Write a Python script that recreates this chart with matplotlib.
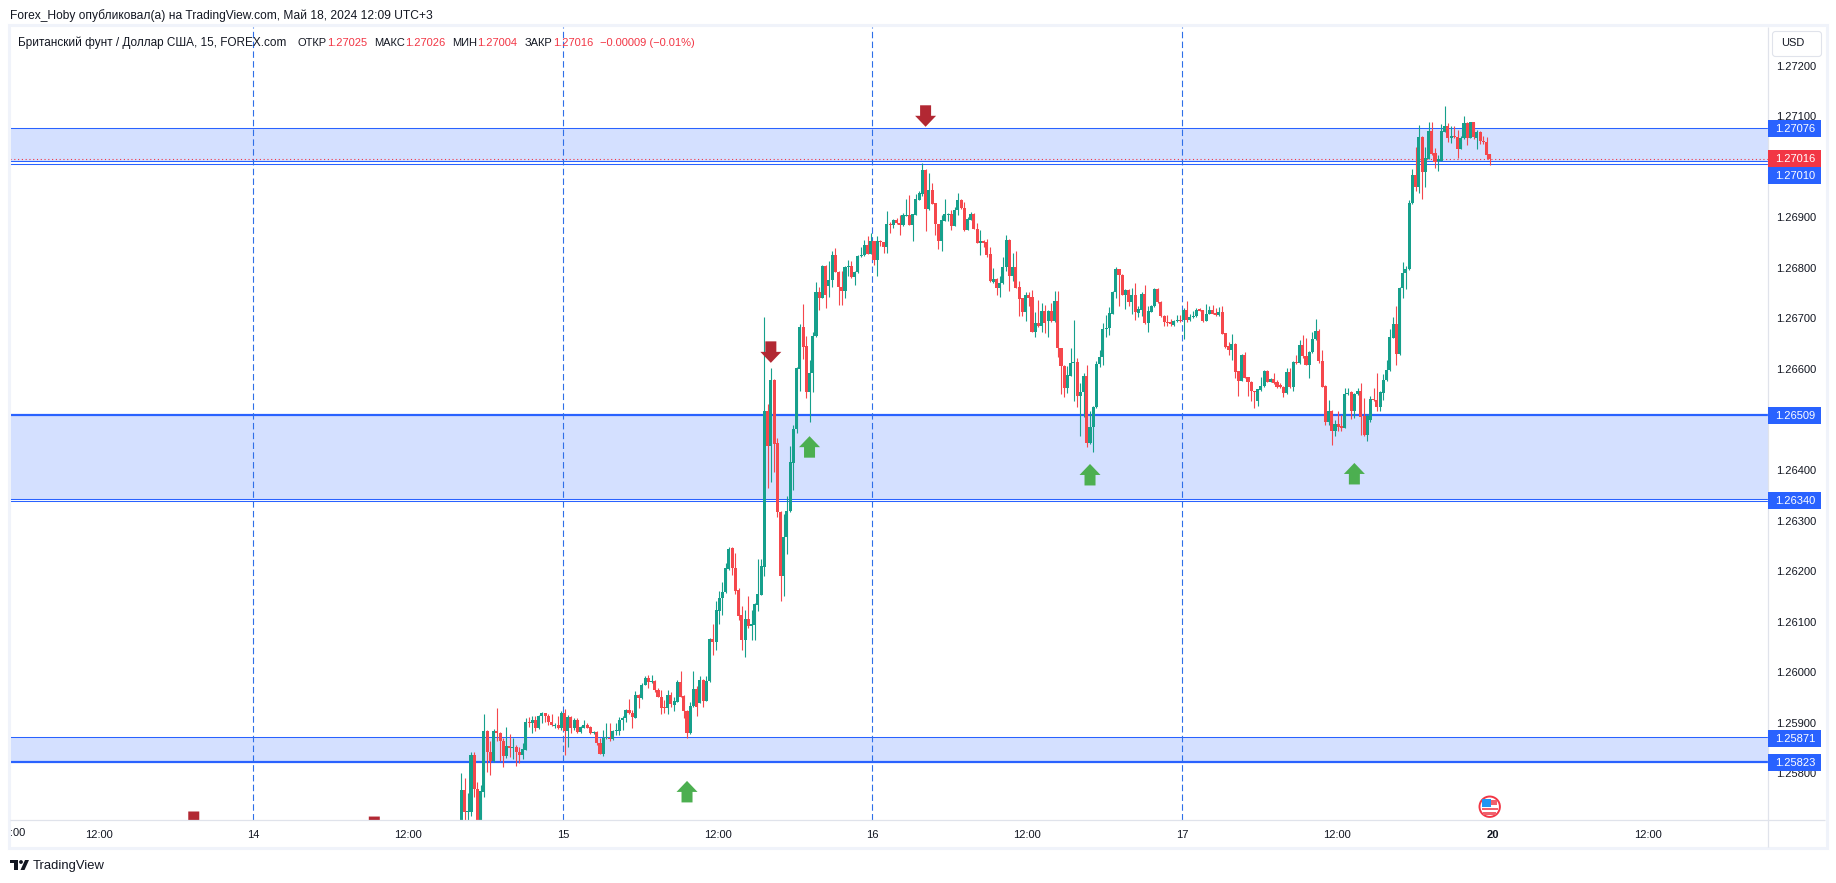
import numpy as np
import matplotlib
matplotlib.use("Agg")
import matplotlib.pyplot as plt
from matplotlib.patches import Polygon, Rectangle, Circle, FancyBboxPatch

plt.rcParams['font.family'] = ['Liberation Sans', 'DejaVu Sans']

# OHLC of the 15-minute candles, in units of 0.00001 above 1.0
opens = [
25682,25768,25723,25723,25837,25769,25689,25764,25884,25842,
25824,25884,25880,25863,25834,25855,25851,25853,25842,25836,
25847,25902,25899,25906,25889,25914,25919,25913,25901,25894,
25896,25889,25919,25883,25911,25889,25906,25881,25890,25896,
25892,25880,25882,25860,25839,25869,25870,25867,25884,25884,
25905,25909,25926,25919,25910,25954,25950,25974,25989,25980,
25983,25964,25952,25932,25930,25955,25936,25942,25981,25953,
25924,25879,25933,25967,25940,25985,25944,25982,26066,26060,
26122,26146,26158,26205,26245,26206,26162,26113,26063,26106,
26091,26094,26133,26153,26209,26517,26448,26579,26453,26317,
26191,26267,26318,26414,26482,26600,26682,26645,26555,26591,
26666,26753,26741,26804,26765,26775,26826,26792,26763,26755,
26802,26803,26781,26791,26823,26825,26846,26828,26853,26816,
26854,26851,26842,26887,26884,26895,26888,26884,26903,26904,
26885,26905,26935,26946,26994,26917,26954,26928,26886,26854,
26893,26905,26907,26883,26914,26935,26918,26875,26895,26907,
26877,26850,26853,26851,26827,26772,26778,26761,26769,26801,
26855,26784,26802,26762,26740,26712,26747,26742,26674,26691,
26684,26714,26694,26714,26694,26735,26641,26606,26562,26587,
26611,26614,26546,26554,26587,26453,26485,26524,26609,26623,
26679,26681,26709,26752,26797,26786,26747,26757,26732,26747,
26711,26717,26749,26690,26713,26724,26758,26733,26705,26693,
26693,26687,26695,26697,26696,26717,26696,26703,26704,26718,
26716,26695,26708,26717,26711,26706,26713,26671,26646,26637,
26649,26595,26577,26628,26584,26575,26556,26536,26559,26566,
26596,26575,26581,26574,26569,26565,26552,26594,26564,26614,
26611,26647,26626,26607,26633,26659,26676,26616,26567,26496,
26517,26477,26492,26488,26484,26551,26554,26517,26550,26556,
26506,26469,26498,26540,26539,26524,26552,26578,26597,26662,
26689,26629,26760,26790,26797,26928,26984,26959,27059,26989,
27016,27070,27027,27011,27012,27069,27081,27056,27060,27058,
27036,27056,27087,27057,27088,27056,27069,27050,27049,27025]
highs = [
25801,25791,25761,25842,25843,25782,25776,25918,25886,25863,
25888,25929,25881,25870,25892,25878,25870,25857,25852,25860,
25909,25911,25914,25914,25916,25921,25920,25918,25918,25899,
25914,25923,25927,25915,25913,25909,25909,25894,25905,25899,
25893,25883,25883,25870,25886,25899,25899,25886,25899,25911,
25913,25927,25947,25926,25962,25957,25979,25992,25995,25994,
25984,25968,25964,25946,25965,25960,25952,25985,26003,25954,
25925,25942,26002,25972,25992,25987,25992,26068,26096,26140,
26160,26179,26216,26248,26247,26236,26167,26131,26124,26151,
26124,26137,26224,26224,26702,26530,26602,26580,26463,26318,
26314,26349,26447,26489,26603,26689,26729,26665,26617,26673,
26772,26763,26806,26806,26813,26834,26839,26793,26793,26803,
26816,26813,26793,26825,26842,26855,26862,26869,26854,26862,
26855,26852,26913,26890,26896,26898,26905,26909,26937,26944,
26907,26946,26952,27007,26996,26987,26967,26929,26887,26905,
26937,26908,26915,26921,26948,26936,26931,26900,26911,26908,
26888,26875,26855,26857,26842,26800,26780,26783,26821,26865,
26858,26829,26834,26773,26741,26752,26752,26757,26712,26736,
26730,26727,26717,26730,26755,26755,26642,26607,26605,26641,
26697,26622,26572,26592,26607,26516,26526,26615,26638,26691,
26707,26722,26755,26802,26798,26787,26758,26758,26760,26770,
26725,26753,26767,26725,26726,26761,26760,26735,26707,26707,
26699,26697,26707,26707,26720,26735,26709,26714,26720,26720,
26717,26729,26725,26727,26720,26722,26725,26672,26654,26669,
26651,26596,26629,26633,26585,26576,26557,26561,26585,26597,
26597,26582,26591,26579,26573,26567,26602,26602,26615,26628,
26658,26667,26661,26635,26673,26699,26678,26638,26568,26539,
26518,26498,26517,26509,26562,26562,26556,26553,26562,26572,
26542,26511,26546,26562,26592,26556,26589,26618,26678,26702,
26725,26762,26811,26804,26935,26996,27040,27083,27060,27040,
27089,27088,27037,27023,27085,27120,27086,27081,27080,27073,
27060,27101,27088,27089,27089,27072,27070,27060,27058,27026]
lows = [
25656,25682,25682,25716,25754,25669,25669,25754,25802,25797,
25822,25863,25824,25812,25830,25832,25828,25814,25820,25828,
25846,25891,25880,25883,25888,25899,25901,25896,25893,25890,
25888,25886,25837,25853,25880,25886,25880,25880,25889,25889,
25878,25878,25857,25838,25835,25868,25863,25865,25876,25876,
25886,25901,25918,25890,25910,25929,25948,25974,25968,25979,
25960,25951,25918,25919,25918,25932,25924,25941,25951,25910,
25869,25878,25932,25913,25939,25932,25943,25981,26035,26044,
26096,26114,26157,26203,26193,26155,26104,26044,26031,26088,
26064,26064,26122,26152,26190,26364,26377,26397,26308,26140,
26151,26234,26317,26360,26474,26556,26620,26543,26495,26555,
26664,26717,26740,26720,26743,26763,26791,26727,26727,26740,
26783,26780,26766,26790,26821,26824,26827,26827,26805,26784,
26844,26830,26830,26869,26878,26887,26864,26883,26902,26884,
26853,26904,26934,26942,26872,26915,26926,26865,26838,26834,
26892,26893,26875,26882,26905,26917,26872,26874,26894,26876,
26849,26826,26842,26822,26772,26770,26747,26743,26768,26793,
26755,26773,26760,26704,26704,26694,26724,26673,26664,26683,
26674,26671,26664,26693,26693,26623,26551,26544,26552,26586,
26536,26524,26467,26505,26445,26452,26435,26523,26603,26607,
26664,26668,26708,26741,26725,26746,26719,26725,26709,26696,
26702,26704,26689,26674,26713,26723,26730,26703,26684,26685,
26685,26685,26693,26693,26659,26692,26695,26700,26703,26714,
26693,26694,26708,26708,26705,26705,26669,26641,26628,26617,
26582,26546,26576,26582,26546,26536,26523,26526,26557,26565,
26574,26574,26571,26562,26562,26544,26551,26563,26556,26610,
26610,26622,26607,26583,26631,26658,26612,26564,26490,26490,
26450,26467,26477,26477,26483,26549,26501,26503,26549,26470,
26468,26457,26496,26536,26516,26516,26539,26577,26596,26661,
26607,26628,26741,26759,26796,26926,26951,26949,26937,26959,
27015,27024,26998,26991,27011,27068,27048,27047,27057,27017,
27035,27055,27043,27056,27055,27035,27045,27045,27016,27004]
closes = [
25768,25723,25724,25837,25769,25689,25766,25884,25842,25824,
25884,25880,25863,25834,25855,25851,25853,25842,25836,25849,
25902,25900,25906,25889,25914,25919,25913,25901,25895,25896,
25889,25919,25883,25911,25889,25906,25881,25892,25896,25890,
25880,25882,25860,25839,25869,25870,25867,25884,25885,25906,
25909,25926,25919,25911,25954,25950,25975,25989,25980,25983,
25964,25952,25930,25930,25955,25937,25944,25981,25952,25923,
25879,25934,25967,25932,25984,25944,25982,26066,26060,26124,
26147,26159,26206,26244,26206,26161,26112,26063,26106,26091,
26095,26135,26155,26211,26517,26448,26579,26451,26316,26191,
26267,26318,26415,26482,26602,26682,26644,26555,26591,26666,
26753,26741,26804,26747,26776,26826,26792,26763,26755,26802,
26803,26781,26792,26824,26825,26846,26828,26853,26816,26853,
26852,26842,26887,26885,26895,26888,26884,26904,26904,26885,
26906,26937,26948,26994,26917,26954,26927,26886,26854,26894,
26906,26907,26883,26915,26935,26918,26875,26897,26907,26877,
26850,26853,26850,26826,26773,26778,26761,26770,26801,26855,
26784,26802,26761,26739,26712,26747,26741,26674,26691,26684,
26714,26691,26714,26694,26734,26641,26605,26562,26588,26612,
26614,26546,26554,26587,26453,26485,26525,26610,26623,26679,
26681,26710,26753,26797,26786,26747,26757,26732,26747,26712,
26718,26749,26690,26714,26725,26759,26732,26704,26692,26691,
26688,26695,26697,26695,26717,26696,26703,26704,26717,26715,
26695,26709,26717,26709,26706,26713,26670,26644,26637,26649,
26593,26577,26628,26583,26574,26556,26554,26560,26566,26596,
26575,26581,26572,26565,26564,26552,26594,26564,26614,26611,
26648,26625,26608,26634,26660,26676,26615,26565,26496,26517,
26477,26492,26486,26484,26551,26552,26517,26551,26556,26505,
26469,26506,26540,26538,26524,26554,26579,26598,26664,26689,
26629,26761,26790,26797,26928,26984,26959,27059,26989,27017,
27070,27025,27010,27015,27070,27081,27056,27060,27058,27036,
27056,27087,27056,27088,27058,27069,27050,27048,27023,27016]

# Price scale and time axis
price_ticks = [1.272, 1.271, 1.269, 1.268, 1.267, 1.266, 1.264, 1.263, 1.262,
               1.261, 1.260, 1.259, 1.258]
day_ticks = [-64.5, 31.5, 127.5, 223.5, 320.0]
day_labels = ['14', '15', '16', '17', '20']
noon_ticks = [-112.5, -16.5, 79.5, 175.5, 271.5, 368.0]
separator_bars = [-64.5, 31.5, 127.5, 223.5]

# Drawn price zones (upper, lower) and their border lines
zones = [(1.27076, 1.27011), (1.26509, 1.26343), (1.25871, 1.25823)]
thin_levels = [1.27076, 1.27011, 1.27005, 1.26343, 1.26338, 1.25871]
thick_levels = [1.26509, 1.25823]
last_price = 1.27016
level_tags = [('1.27076', 1.27076), ('1.26509', 1.26509), ('1.26340', 1.26340),
              ('1.25871', 1.25871), ('1.25823', 1.25823)]

# Arrows drawn on the chart: bar, tip price
up_arrows = [(70, 1.25785), (108, 1.26467), (195, 1.26412), (277, 1.26414)]
down_arrows = [(96, 1.26612), (144, 1.27079), (-83, 1.25682), (-27, 1.25672)]

UP, DOWN = '#16a08c', '#f5474c'
BLUE = '#2962ff'
W, H = 1836, 883
L, R, T, B = 10, 1768, 27, 820
FS_NUM = 8.0      # digit-heavy labels
FS_TXT = 8.5      # running text

o, h, l, c = [1 + np.array(a) / 1e5 for a in (opens, highs, lows, closes)]
bars = np.arange(len(c))
colors = np.where(c >= o, UP, DOWN)

fig = plt.figure(figsize=(W / 100, H / 100), dpi=100, facecolor='white')
ax = fig.add_axes([L / W, 1 - B / H, (R - L) / W, (B - T) / H])
ax.set_xlim(-140.0, 405.3)
ax.set_ylim(1.257077, 1.272764)
px_per_bar = (R - L) / 545.3
px_per_price = (B - T) / (1.272764 - 1.257077)
for s in ax.spines.values():
    s.set_visible(False)

for up, lo in zones:
    ax.axhspan(lo, up, color='#d4e0ff', lw=0, zorder=1)
for v in thin_levels:
    ax.axhline(v, color=BLUE, lw=0.75, zorder=2)
for v in thick_levels:
    ax.axhline(v, color=BLUE, lw=1.6, zorder=2)
for b in separator_bars:
    ax.axvline(b, color='#2f6fe8', lw=0.8, ls=(0, (5.8, 3.0)), zorder=2)
ax.axhline(last_price, color='#f23645', lw=0.8, ls=(0, (1, 2.4)), zorder=2.5)

ax.vlines(bars, l, h, colors=colors, lw=0.8, zorder=3)
ax.bar(bars, np.maximum(np.abs(c - o), 0.00002), bottom=np.minimum(o, c), width=0.95,
       color=colors, lw=0, zorder=4)


def arrow(bar, tip, sign, color):
    hw, tw = 10.5 / px_per_bar, 5.5 / px_per_bar
    hh, th = sign * 11 / px_per_price, sign * 21.5 / px_per_price
    pts = [(bar, tip), (bar + hw, tip - hh), (bar + tw, tip - hh), (bar + tw, tip - th),
           (bar - tw, tip - th), (bar - tw, tip - hh), (bar - hw, tip - hh)]
    ax.add_patch(Polygon(pts, closed=True, color=color, lw=0, zorder=5))


for b, p in up_arrows:
    arrow(b, p, 1, '#4caf50')
for b, p in down_arrows:
    arrow(b, p, -1, '#b22833')

ax.yaxis.tick_right()
ax.set_yticks(price_ticks)
ax.set_yticklabels([f'{p:.5f}' for p in price_ticks], fontsize=FS_NUM, color='#131722')
ax.tick_params(axis='y', length=0, pad=6)
for lab in ax.get_yticklabels():
    lab.set_y(lab.get_position()[1])
ax.set_xticks(day_ticks + noon_ticks)
ax.set_xticklabels(day_labels + ['12:00'] * len(noon_ticks), fontsize=FS_NUM, color='#131722')
ax.tick_params(axis='x', length=0, pad=7)
for lab in ax.get_xticklabels()[4:5]:
    lab.set_fontweight('bold')

# Chrome, tags and captions in pixel coordinates
ov = fig.add_axes([0, 0, 1, 1], facecolor='none')
ov.set_xlim(0, W)
ov.set_ylim(H, 0)
ov.axis('off')


def line(x0, y0, x1, y1, color='#e0e3eb', lw=0.9):
    ov.plot([x0, x1], [y0, y1], color=color, lw=lw, solid_capstyle='butt')


frame = '#f0f3fa'
ov.add_patch(Rectangle((8.5, 25), 1818, 823, fill=False, ec=frame, lw=2.2))
line(R, 27, R, 847)
line(10, B, 1825, B)


def tag(text, yc, color=BLUE):
    ov.add_patch(Rectangle((R, yc - 8.5), 53, 17, fc=color, ec='none', zorder=6))
    ov.text(R + 27.5, yc + 0.6, text, color='white', fontsize=FS_NUM, ha='center', va='center', zorder=7)


tag_y = {'1.27076': 128.7, '1.26509': 415.6, '1.26340': 500.0, '1.25871': 738.3, '1.25823': 762.5}
for text, _ in level_tags:
    tag(text, tag_y[text])
tag('1.27016', 158.4, '#f23645')
tag('1.27010', 175.6)

ov.text(9.5, 16, 'Forex_Hoby опубликовал(а) на TradingView.com, Май 18, 2024 12:09 UTC+3',
        fontsize=8.65, color='#131722', va='center')
k, r = '#131722', '#f23645'
legend_runs = [(18, 'Британский фунт / Доллар США, 15, FOREX.com', k, FS_TXT), (297, 'ОТКР', k, FS_NUM),
               (327, '1.27025', r, FS_NUM), (374, 'МАКС', k, FS_NUM), (405, '1.27026', r, FS_NUM),
               (452, 'МИН', k, FS_NUM), (477, '1.27004', r, FS_NUM), (525, 'ЗАКР', k, FS_NUM),
               (553.5, '1.27016', r, FS_NUM), (600, '−0.00009 (−0.01%)', r, FS_NUM)]
for x, s, col, fs in legend_runs:
    ov.text(x, 43, s, fontsize=fs, color=col, va='center')
ov.text(10, 833, ':00', fontsize=FS_NUM, color='#131722', va='center')

ov.add_patch(FancyBboxPatch((1774, 33), 46, 22, boxstyle='round,pad=1.5,rounding_size=3',
                            fc='white', ec='#e0e3eb', lw=0.8))
ov.text(1793, 43.5, 'USD', fontsize=7.9, color='#131722', ha='center', va='center')

# US flag event icon
ov.add_patch(Circle((1489.7, 806.7), 10.2, fc='white', ec='#f23645', lw=1.4, zorder=6))
ov.add_patch(Rectangle((1482, 800), 15, 5, fc='#f0616c', ec='none', zorder=7))
ov.add_patch(Rectangle((1482, 808), 16, 2.2, fc='#f0616c', ec='none', zorder=7))
ov.add_patch(Rectangle((1483, 812), 13, 2.6, fc='#f0616c', ec='none', zorder=7))
ov.add_patch(Rectangle((1482, 799), 9, 8, fc='#2196f3', ec='none', zorder=8))

# TradingView footer
ov.add_patch(Rectangle((10, 860), 8, 3.3, fc='#131722', ec='none'))
ov.add_patch(Rectangle((13.5, 860), 4.5, 10, fc='#131722', ec='none'))
ov.add_patch(Circle((21, 862), 1.9, fc='#131722', ec='none'))
ov.add_patch(Polygon([(25, 860), (29, 860), (24.5, 870), (20.5, 870)], fc='#131722', ec='none'))
ov.text(33, 866, 'TradingView', fontsize=9.4, color='#131722', va='center')

fig.savefig('out.png', dpi=100)
